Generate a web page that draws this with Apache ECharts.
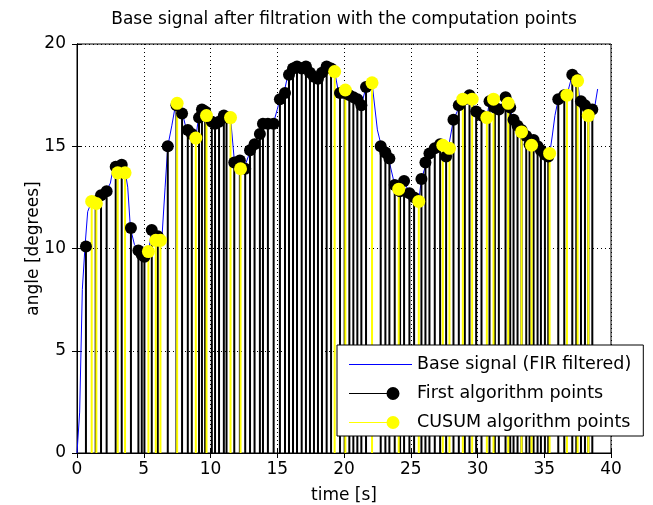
<!DOCTYPE html>
<html><head><meta charset="utf-8">
<script src="https://cdn.jsdelivr.net/npm/echarts@6/dist/echarts.min.js"></script>
<style>html,body{margin:0;padding:0;background:#fff}#c{width:653px;height:505px}</style>
</head><body><div id="c"></div>
<script>
// Base signal (FIR filtered): [time s, angle deg]
const baseSignal = [
[0,0],[0.2,2],[0.4,8],[0.6,10.1],[0.8,11.8],[1.1,12.3],[1.5,12.3],[2.2,12.8],[2.5,13.2],[2.7,13.9],[3.5,14.2],[3.8,13.0],
[4.0,11.0],[4.3,10.2],[4.6,9.9],[5.0,9.6],[5.35,9.8],[5.6,10.9],[6.0,10.5],[6.35,10.4],[6.6,13.0],[6.8,15.0],[7.1,16.0],
[7.4,17.1],[7.9,16.6],[8.2,15.8],[8.9,15.4],[9.1,16.4],[9.4,16.8],[9.7,16.5],[10.3,16.1],[10.8,16.5],[11.5,16.4],[11.8,14.2],
[12.2,14.0],[12.5,13.9],[13.0,14.8],[13.3,15.1],[13.9,16.1],[14.7,16.1],[15.0,16.8],[15.2,17.3],[15.5,17.6],[15.8,18.5],
[16.3,18.9],[16.8,18.8],[17.2,18.9],[17.6,18.4],[17.95,18.3],[18.4,18.8],[18.7,18.9],[19.3,18.65],[19.6,17.6],[20.1,17.75],
[20.6,17.4],[21.3,17.0],[21.65,17.9],[22.1,18.1],[22.5,15.8],[22.8,15.0],[23.3,14.5],[23.8,13.1],[24.1,12.9],[24.5,13.3],
[24.9,12.7],[25.6,12.3],[25.8,13.4],[26.4,14.65],[27.2,15.1],[27.7,14.5],[28.2,16.3],[28.9,17.3],[29.4,17.5],[29.9,16.7],
[30.7,16.4],[30.9,17.2],[31.2,17.3],[31.6,16.8],[32.1,17.4],[32.7,16.3],[33.3,15.7],[34.2,15.3],[34.7,14.8],[35.4,14.6],
[35.6,15.5],[35.8,16.5],[36.05,17.3],[36.7,17.5],[37.1,18.5],[37.5,18.2],[37.7,17.0],[38.05,17.0],[38.55,16.8],[38.8,17.0],[39.0,17.8]
];
// First algorithm points: [time s, angle deg]
const firstPoints = [
[0.67,10.1],[1.4,12.3],[1.8,12.6],[2.22,12.8],[2.9,14.0],[3.35,14.1],[4.04,11.0],[4.6,9.9],[4.85,9.7],[5.05,9.6],
[5.6,10.9],[6.05,10.6],[6.8,15.0],[7.45,17.0],[7.87,16.6],[8.3,15.8],[8.6,15.6],[9.14,16.4],[9.36,16.8],[9.6,16.7],
[10.1,16.2],[10.34,16.1],[10.64,16.2],[11.0,16.5],[11.2,16.4],[11.78,14.2],[12.2,14.3],[12.6,13.9],[12.96,14.8],[13.3,15.1],
[13.7,15.6],[13.93,16.1],[14.3,16.1],[14.73,16.1],[15.2,17.3],[15.58,17.6],[15.88,18.5],[16.18,18.8],[16.48,18.9],[16.83,18.8],
[17.15,18.9],[17.45,18.6],[17.75,18.4],[18.05,18.3],[18.35,18.6],[18.7,18.9],[19.03,18.8],[19.7,17.6],[20.05,17.6],[20.4,17.5],
[20.7,17.4],[21.0,17.3],[21.3,17.0],[21.65,17.9],[22.75,15.0],[23.1,14.7],[23.4,14.4],[23.8,13.1],[24.2,12.8],[24.5,13.3],
[24.9,12.7],[25.25,12.5],[25.8,13.4],[26.1,14.2],[26.4,14.65],[26.8,14.9],[27.2,15.1],[27.65,14.5],[28.2,16.3],[28.6,17.0],
[29.05,17.3],[29.4,17.5],[29.9,16.7],[30.3,16.5],[30.9,17.2],[31.3,16.9],[31.6,16.8],[32.1,17.4],[32.45,16.9],[32.7,16.3],
[33.0,16.0],[33.3,15.8],[33.65,15.5],[33.9,15.1],[34.2,15.3],[34.5,15.0],[34.75,14.8],[35.05,14.6],[35.3,14.5],[36.05,17.3],
[36.5,17.5],[37.1,18.5],[37.4,18.3],[37.75,17.2],[38.05,17.0],[38.3,16.8],[38.6,16.8]
];
// CUSUM algorithm points: [time s, angle deg]
const cusumPoints = [
[1.1,12.3],[1.45,12.2],[3.05,13.7],[3.6,13.7],[5.35,9.85],[5.9,10.4],[6.25,10.4],[7.5,17.1],[8.9,15.4],[9.7,16.5],
[11.5,16.4],[12.25,13.9],[19.3,18.65],[20.1,17.75],[22.1,18.1],[24.1,12.9],[25.6,12.3],[27.4,15.05],[27.9,14.9],[28.9,17.3],
[29.6,17.3],[30.7,16.4],[31.2,17.3],[32.3,17.1],[33.3,15.7],[34.05,15.05],[35.4,14.65],[36.7,17.5],[37.5,18.2],[38.3,16.5]
];
const xRange = [0, 40], xStep = 5;
const yRange = [0, 20], yStep = 5;
const titleText = 'Base signal after filtration with the computation points';
const xName = 'time [s]', yName = 'angle [degrees]';
const names = ['Base signal (FIR filtered)', 'First algorithm points', 'CUSUM algorithm points'];

const FONT = 'DejaVu Sans';
const chart = echarts.init(document.getElementById('c'), null, {renderer: 'canvas'});

function stem(color) {
  return function (params, api) {
    const p0 = api.coord([api.value(0), 0]);
    const p1 = api.coord([api.value(0), api.value(1)]);
    return {type: 'line', shape: {x1: p0[0], y1: p0[1], x2: p1[0], y2: p1[1]},
            style: {stroke: color, lineWidth: 2}};
  };
}
const lineIcon = 'path://M0,0 L0.01,0 Z M63,14 L62.99,14 Z M0,7 L63,7 L63,8 L0,8 Z';
const dotIcon = 'path://M0,0 L0.01,0 Z M63,14 L62.99,14 Z M0,7 L38,7 L38,8 L0,8 Z M50.5,7.5 A6.5,6.5 0 1 1 37.5,7.5 A6.5,6.5 0 1 1 50.5,7.5 Z';

const axCommon = {
  axisLine: {show: true, lineStyle: {color: '#000', width: 1}},
  axisTick: {show: true, inside: true, length: 5, lineStyle: {color: '#000'}},
};

chart.setOption({
  animation: false,
  backgroundColor: '#fff',
  title: {text: titleText, left: 344, top: 11, textAlign: 'center', padding: 0,
    textStyle: {fontFamily: FONT, fontSize: 17, fontWeight: 'normal', color: '#000'}},
  grid: {left: 77, right: 42, top: 44, bottom: 52, containLabel: false, outerBoundsMode: 'none',
    show: true, borderColor: '#000', borderWidth: 1, backgroundColor: '#fff'},
  legend: {
    orient: 'vertical', left: 337, top: 345, padding: [10, 12, 5, 12],
    itemWidth: 63, itemHeight: 14, itemGap: 11, selectedMode: false,
    backgroundColor: '#fff', borderColor: '#000', borderWidth: 1, borderRadius: 0,
    textStyle: {fontFamily: FONT, fontSize: 17.5, color: '#000', lineHeight: 14},
    data: [
      {name: names[0], icon: lineIcon, itemStyle: {color: '#0000ff', borderWidth: 0}},
      {name: names[1], icon: dotIcon, itemStyle: {color: '#000000', borderWidth: 0}},
      {name: names[2], icon: dotIcon, itemStyle: {color: '#ffff00', borderWidth: 0}}
    ]
  },
  xAxis: [
    Object.assign({type: 'value', position: 'bottom', min: xRange[0], max: xRange[1], interval: xStep,
      name: xName, nameLocation: 'middle', nameGap: 34, nameMoveOverlap: false,
      nameTextStyle: {fontFamily: FONT, fontSize: 17, color: '#000'},
      axisLabel: {fontFamily: FONT, fontSize: 17, color: '#000', margin: 8},
      splitLine: {show: true, lineStyle: {color: '#000', type: [1, 3], width: 1}}}, axCommon),
    Object.assign({type: 'value', position: 'top', min: xRange[0], max: xRange[1], interval: xStep,
      axisLabel: {show: false}, splitLine: {show: false}}, axCommon)
  ],
  yAxis: [
    Object.assign({type: 'value', position: 'left', min: yRange[0], max: yRange[1], interval: yStep,
      name: yName, nameLocation: 'middle', nameGap: 35, nameMoveOverlap: false,
      nameTextStyle: {fontFamily: FONT, fontSize: 17, color: '#000'},
      axisLabel: {fontFamily: FONT, fontSize: 17, color: '#000', margin: 11},
      splitLine: {show: true, lineStyle: {color: '#000', type: [1, 3], width: 1}}}, axCommon),
    Object.assign({type: 'value', position: 'right', min: yRange[0], max: yRange[1], interval: yStep,
      axisLabel: {show: false}, splitLine: {show: false}}, axCommon)
  ],
  series: [
    {name: names[0], type: 'line', z: 1, data: baseSignal, symbol: 'none', color: '#0000ff',
      lineStyle: {color: '#0000ff', width: 1}, clip: true},
    {name: 'stemFirst', type: 'custom', z: 2, data: firstPoints, renderItem: stem('#000000'),
      encode: {x: 0, y: 1}, itemStyle: {color: '#000'}},
    {name: names[1], type: 'scatter', z: 2, data: firstPoints, symbol: 'circle', symbolSize: 12,
      itemStyle: {color: '#000000', opacity: 1}},
    {name: 'stemCusum', type: 'custom', z: 2, data: cusumPoints, renderItem: stem('#ffff00'),
      encode: {x: 0, y: 1}, itemStyle: {color: '#ff0'}},
    {name: names[2], type: 'scatter', z: 2, data: cusumPoints, symbol: 'circle', symbolSize: 13,
      itemStyle: {color: '#ffff00', opacity: 1}}
  ]
});
</script></body></html>
